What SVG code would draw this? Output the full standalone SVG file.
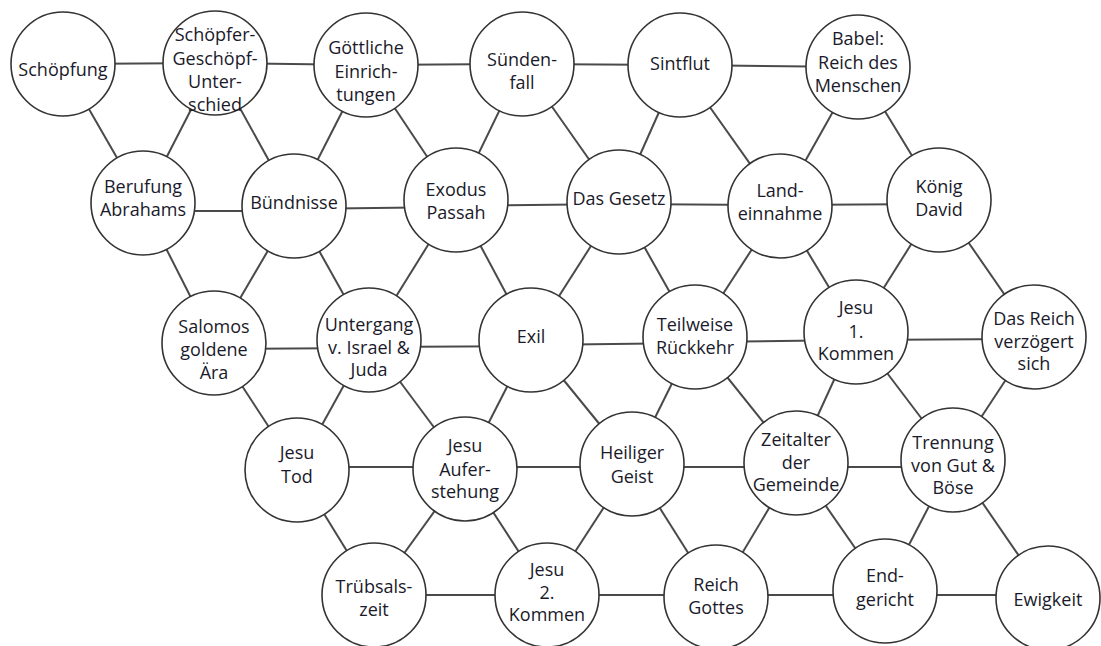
<svg xmlns="http://www.w3.org/2000/svg" width="1101" height="646" viewBox="0 0 1101 646">
<style>
.e{stroke:#4a4a4a;stroke-width:2;fill:none}
.c{fill:#fff;stroke:#333;stroke-width:1.6}
text{font-family:"Open Sans","Noto Sans","DejaVu Sans",sans-serif;font-size:18px;fill:#1a1a2a;text-anchor:middle}
</style>
<rect width="1101" height="646" fill="#fff"/>
<g id="connectors">
<line class="e" x1="63" y1="64" x2="215" y2="63"/>
<line class="e" x1="215" y1="63" x2="366" y2="65"/>
<line class="e" x1="366" y1="65" x2="522" y2="64"/>
<line class="e" x1="522" y1="64" x2="680" y2="65"/>
<line class="e" x1="680" y1="65" x2="858" y2="67"/>
<line class="e" x1="63" y1="64" x2="143" y2="203"/>
<line class="e" x1="215" y1="63" x2="143" y2="203"/>
<line class="e" x1="215" y1="63" x2="294" y2="206"/>
<line class="e" x1="366" y1="65" x2="294" y2="206"/>
<line class="e" x1="366" y1="65" x2="456" y2="200"/>
<line class="e" x1="522" y1="64" x2="456" y2="200"/>
<line class="e" x1="522" y1="64" x2="619" y2="202"/>
<line class="e" x1="680" y1="65" x2="619" y2="202"/>
<line class="e" x1="680" y1="65" x2="780" y2="206"/>
<line class="e" x1="858" y1="67" x2="780" y2="206"/>
<line class="e" x1="858" y1="67" x2="939" y2="200"/>
<line class="e" x1="143" y1="211" x2="294" y2="211"/>
<line class="e" x1="294" y1="209" x2="456" y2="207"/>
<line class="e" x1="456" y1="206" x2="619" y2="204"/>
<line class="e" x1="619" y1="204" x2="780" y2="205"/>
<line class="e" x1="780" y1="205" x2="939" y2="204"/>
<line class="e" x1="143" y1="203" x2="214" y2="343"/>
<line class="e" x1="294" y1="206" x2="214" y2="343"/>
<line class="e" x1="294" y1="206" x2="369" y2="340"/>
<line class="e" x1="456" y1="200" x2="369" y2="340"/>
<line class="e" x1="456" y1="200" x2="531" y2="340"/>
<line class="e" x1="619" y1="202" x2="531" y2="340"/>
<line class="e" x1="619" y1="202" x2="695" y2="337"/>
<line class="e" x1="780" y1="206" x2="695" y2="337"/>
<line class="e" x1="780" y1="206" x2="856" y2="332"/>
<line class="e" x1="939" y1="200" x2="856" y2="332"/>
<line class="e" x1="939" y1="200" x2="1034" y2="337"/>
<line class="e" x1="214" y1="349" x2="369" y2="348"/>
<line class="e" x1="369" y1="347" x2="531" y2="346"/>
<line class="e" x1="531" y1="345" x2="695" y2="343"/>
<line class="e" x1="695" y1="342" x2="856" y2="340"/>
<line class="e" x1="856" y1="340" x2="1034" y2="339"/>
<line class="e" x1="214" y1="343" x2="297" y2="470"/>
<line class="e" x1="369" y1="340" x2="297" y2="470"/>
<line class="e" x1="369" y1="340" x2="465" y2="469"/>
<line class="e" x1="531" y1="340" x2="465" y2="469"/>
<line class="e" x1="531" y1="340" x2="632" y2="464"/>
<line class="e" x1="695" y1="337" x2="632" y2="464"/>
<line class="e" x1="695" y1="337" x2="796" y2="463"/>
<line class="e" x1="856" y1="332" x2="796" y2="463"/>
<line class="e" x1="856" y1="332" x2="953" y2="460"/>
<line class="e" x1="1034" y1="337" x2="953" y2="460"/>
<line class="e" x1="297" y1="467" x2="465" y2="467"/>
<line class="e" x1="465" y1="467" x2="632" y2="467"/>
<line class="e" x1="632" y1="467" x2="796" y2="467"/>
<line class="e" x1="796" y1="467" x2="953" y2="467"/>
<line class="e" x1="297" y1="470" x2="374" y2="595"/>
<line class="e" x1="465" y1="469" x2="374" y2="595"/>
<line class="e" x1="465" y1="469" x2="547" y2="595"/>
<line class="e" x1="632" y1="464" x2="547" y2="595"/>
<line class="e" x1="632" y1="464" x2="716" y2="597"/>
<line class="e" x1="796" y1="463" x2="716" y2="597"/>
<line class="e" x1="796" y1="463" x2="885" y2="591"/>
<line class="e" x1="953" y1="460" x2="885" y2="591"/>
<line class="e" x1="953" y1="460" x2="1048" y2="598"/>
<line class="e" x1="374" y1="595" x2="547" y2="595"/>
<line class="e" x1="547" y1="595" x2="716" y2="595"/>
<line class="e" x1="716" y1="595" x2="885" y2="595"/>
<line class="e" x1="885" y1="595" x2="1048" y2="595"/>
</g>
<g id="n1"><circle class="c" cx="63" cy="64" r="52"/><text x="63" y="76">Schöpfung</text></g>
<g id="n2"><circle class="c" cx="215" cy="63" r="52"/><text x="215" y="41">Schöpfer-</text><text x="215" y="65">Geschöpf-</text><text x="215" y="88">Unter-</text><text x="215" y="111">schied</text></g>
<g id="n3"><circle class="c" cx="366" cy="65" r="52"/><text x="366" y="54">Göttliche</text><text x="366" y="78">Einrich-</text><text x="366" y="101">tungen</text></g>
<g id="n4"><circle class="c" cx="522" cy="64" r="52"/><text x="522" y="66">Sünden-</text><text x="522" y="89">fall</text></g>
<g id="n5"><circle class="c" cx="680" cy="65" r="52"/><text x="680" y="70">Sintflut</text></g>
<g id="n6"><circle class="c" cx="858" cy="67" r="52"/><text x="858" y="45">Babel:</text><text x="858" y="69">Reich des</text><text x="858" y="92">Menschen</text></g>
<g id="n7"><circle class="c" cx="143" cy="203" r="52"/><text x="143" y="193">Berufung</text><text x="143" y="216">Abrahams</text></g>
<g id="n8"><circle class="c" cx="294" cy="206" r="52"/><text x="294" y="209">Bündnisse</text></g>
<g id="n9"><circle class="c" cx="456" cy="200" r="52"/><text x="456" y="196">Exodus</text><text x="456" y="219">Passah</text></g>
<g id="n10"><circle class="c" cx="619" cy="202" r="52"/><text x="619" y="205">Das Gesetz</text></g>
<g id="n11"><circle class="c" cx="780" cy="206" r="52"/><text x="780" y="197">Land-</text><text x="780" y="220">einnahme</text></g>
<g id="n12"><circle class="c" cx="939" cy="200" r="52"/><text x="939" y="193">König</text><text x="939" y="216">David</text></g>
<g id="n13"><circle class="c" cx="214" cy="343" r="52"/><text x="214" y="333">Salomos</text><text x="214" y="356">goldene</text><text x="214" y="379">Ära</text></g>
<g id="n14"><circle class="c" cx="369" cy="340" r="52"/><text x="369" y="331">Untergang</text><text x="369" y="354">v. Israel &amp;</text><text x="369" y="376">Juda</text></g>
<g id="n15"><circle class="c" cx="531" cy="340" r="52"/><text x="531" y="343">Exil</text></g>
<g id="n16"><circle class="c" cx="695" cy="337" r="52"/><text x="695" y="331">Teilweise</text><text x="695" y="354">Rückkehr</text></g>
<g id="n17"><circle class="c" cx="856" cy="332" r="52"/><text x="856" y="314">Jesu</text><text x="856" y="338">1.</text><text x="856" y="360">Kommen</text></g>
<g id="n18"><circle class="c" cx="1034" cy="337" r="52"/><text x="1034" y="325">Das Reich</text><text x="1034" y="348">verzögert</text><text x="1034" y="370">sich</text></g>
<g id="n19"><circle class="c" cx="297" cy="470" r="52"/><text x="297" y="459">Jesu</text><text x="297" y="483">Tod</text></g>
<g id="n20"><circle class="c" cx="465" cy="469" r="52"/><text x="465" y="452">Jesu</text><text x="465" y="476">Aufer-</text><text x="465" y="498">stehung</text></g>
<g id="n21"><circle class="c" cx="632" cy="464" r="52"/><text x="632" y="459">Heiliger</text><text x="632" y="483">Geist</text></g>
<g id="n22"><circle class="c" cx="796" cy="463" r="52"/><text x="796" y="446">Zeitalter</text><text x="796" y="469">der</text><text x="796" y="491">Gemeinde</text></g>
<g id="n23"><circle class="c" cx="953" cy="460" r="52"/><text x="953" y="449">Trennung</text><text x="953" y="472">von Gut &amp;</text><text x="953" y="494">Böse</text></g>
<g id="n24"><circle class="c" cx="374" cy="595" r="52"/><text x="374" y="593">Trübsals-</text><text x="374" y="616">zeit</text></g>
<g id="n25"><circle class="c" cx="547" cy="595" r="52"/><text x="547" y="576">Jesu</text><text x="547" y="599">2.</text><text x="547" y="621">Kommen</text></g>
<g id="n26"><circle class="c" cx="716" cy="597" r="52"/><text x="716" y="591">Reich</text><text x="716" y="614">Gottes</text></g>
<g id="n27"><circle class="c" cx="885" cy="591" r="52"/><text x="885" y="582">End-</text><text x="885" y="606">gericht</text></g>
<g id="n28"><circle class="c" cx="1048" cy="598" r="52"/><text x="1048" y="606">Ewigkeit</text></g>
</svg>
